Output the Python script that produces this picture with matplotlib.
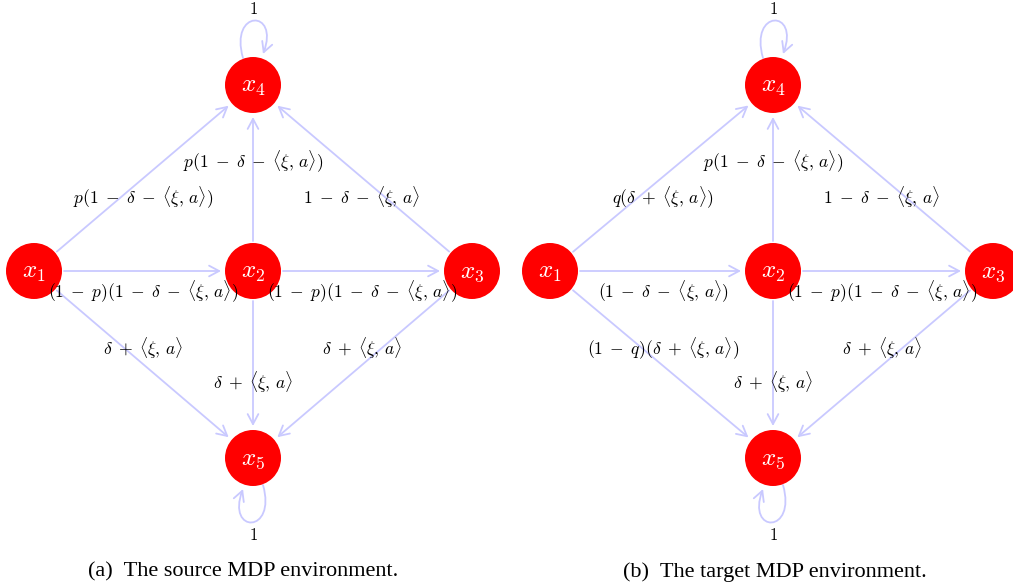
import matplotlib
matplotlib.use("Agg")
import matplotlib.pyplot as plt
from matplotlib.patches import Circle, FancyArrowPatch
from matplotlib.path import Path

plt.rcParams['mathtext.fontset'] = 'cm'

# ---- data ----
node_names = ["x1", "x2", "x3", "x4", "x5"]
node_labels = [r"$x_1$", r"$x_2$", r"$x_3$", r"$x_4$", r"$x_5$"]

edges_source = [
    ("x1", "x4", r"$p(1\;-\;\delta\;-\;\langle\xi,\,a\rangle)$"),
    ("x2", "x4", r"$p(1\;-\;\delta\;-\;\langle\xi,\,a\rangle)$"),
    ("x3", "x4", r"$1\;-\;\delta\;-\;\langle\xi,\,a\rangle$"),
    ("x1", "x2", r"$(1\;-\;p)(1\;-\;\delta\;-\;\langle\xi,\,a\rangle)$"),
    ("x2", "x3", r"$(1\;-\;p)(1\;-\;\delta\;-\;\langle\xi,\,a\rangle)$"),
    ("x1", "x5", r"$\delta\;+\;\langle\xi,\,a\rangle$"),
    ("x2", "x5", r"$\delta\;+\;\langle\xi,\,a\rangle$"),
    ("x3", "x5", r"$\delta\;+\;\langle\xi,\,a\rangle$"),
]
edges_target = [
    ("x1", "x4", r"$q(\delta\;+\;\langle\xi,\,a\rangle)$"),
    ("x2", "x4", r"$p(1\;-\;\delta\;-\;\langle\xi,\,a\rangle)$"),
    ("x3", "x4", r"$1\;-\;\delta\;-\;\langle\xi,\,a\rangle$"),
    ("x1", "x2", r"$(1\;-\;\delta\;-\;\langle\xi,\,a\rangle)$"),
    ("x2", "x3", r"$(1\;-\;p)(1\;-\;\delta\;-\;\langle\xi,\,a\rangle)$"),
    ("x1", "x5", r"$(1\;-\;q)(\delta\;+\;\langle\xi,\,a\rangle)$"),
    ("x2", "x5", r"$\delta\;+\;\langle\xi,\,a\rangle$"),
    ("x3", "x5", r"$\delta\;+\;\langle\xi,\,a\rangle$"),
]
self_loops = [("x4", "1"), ("x5", "1")]
captions = ["(a)  The source MDP environment.", "(b)  The target MDP environment."]

# ---- layout (pixel coordinates) ----
W, H = 1013, 587
R = 28
layouts = [
    {"x1": (34, 271), "x2": (253, 271), "x3": (472, 271), "x4": (253, 85), "x5": (253, 458)},
    {"x1": (550, 271), "x2": (773, 271), "x3": (993, 271), "x4": (773, 85), "x5": (773, 458)},
]
label_offsets = [(-110, -74), (0, -110), (109, -74), (-110, 20), (109, 20),
                 (-110, 77), (0, 111), (109, 77)]
caption_x = [243, 775]

EDGE = (0.79, 0.79, 1.0)
px2pt = 72.0 / 100.0

fig = plt.figure(figsize=(W / 100, H / 100), dpi=100)
ax = fig.add_axes([0, 0, 1, 1])
ax.set_xlim(0, W)
ax.set_ylim(H, 0)
ax.axis("off")

ARROW = "->,head_length=0.6,head_width=0.32"

for k, (edges, pos) in enumerate(zip([edges_source, edges_target], layouts)):
    cx2, cy2 = pos["x2"]
    for (a, b, lab) in edges:
        arr = FancyArrowPatch(pos[a], pos[b], arrowstyle=ARROW,
                              mutation_scale=12, color=EDGE, lw=1.3,
                              shrinkA=(R + 2) * px2pt, shrinkB=(R + 4) * px2pt, zorder=1)
        ax.add_patch(arr)
    for name, lab in zip(node_names, node_labels):
        x, y = pos[name]
        ax.add_patch(Circle((x, y), R, facecolor="#ff0000", edgecolor="none", zorder=2))
        ax.text(x, y + 1, lab, color="white", fontsize=18, ha="center", va="center", zorder=3)
    for (a, b, lab), (dx, dy) in zip(edges, label_offsets):
        ax.text(cx2 + dx, cy2 + dy, lab, fontsize=12.6, ha="center", va="center", zorder=4)
    for name, lab in self_loops:
        x, y = pos[name]
        if name == "x4":
            verts = [(x - 10, y - 27), (x - 24, y - 76), (x + 27, y - 76), (x + 10, y - 31)]
            ly = y - 76
        else:
            verts = [(x + 10, y + 27), (x + 24, y + 76), (x - 27, y + 76), (x - 10, y + 31)]
            ly = y + 77
        path = Path(verts, [Path.MOVETO, Path.CURVE4, Path.CURVE4, Path.CURVE4])
        loop = FancyArrowPatch(path=path, arrowstyle=ARROW,
                               mutation_scale=12, color=EDGE, lw=1.3, zorder=1)
        ax.add_patch(loop)
        ax.text(x, ly, r"$" + lab + r"$", fontsize=12, ha="center", va="center")
    ax.text(caption_x[k], 572, captions[k], fontsize=16, family="Liberation Serif",
            ha="center", va="center")

fig.savefig("out.png", dpi=100)
